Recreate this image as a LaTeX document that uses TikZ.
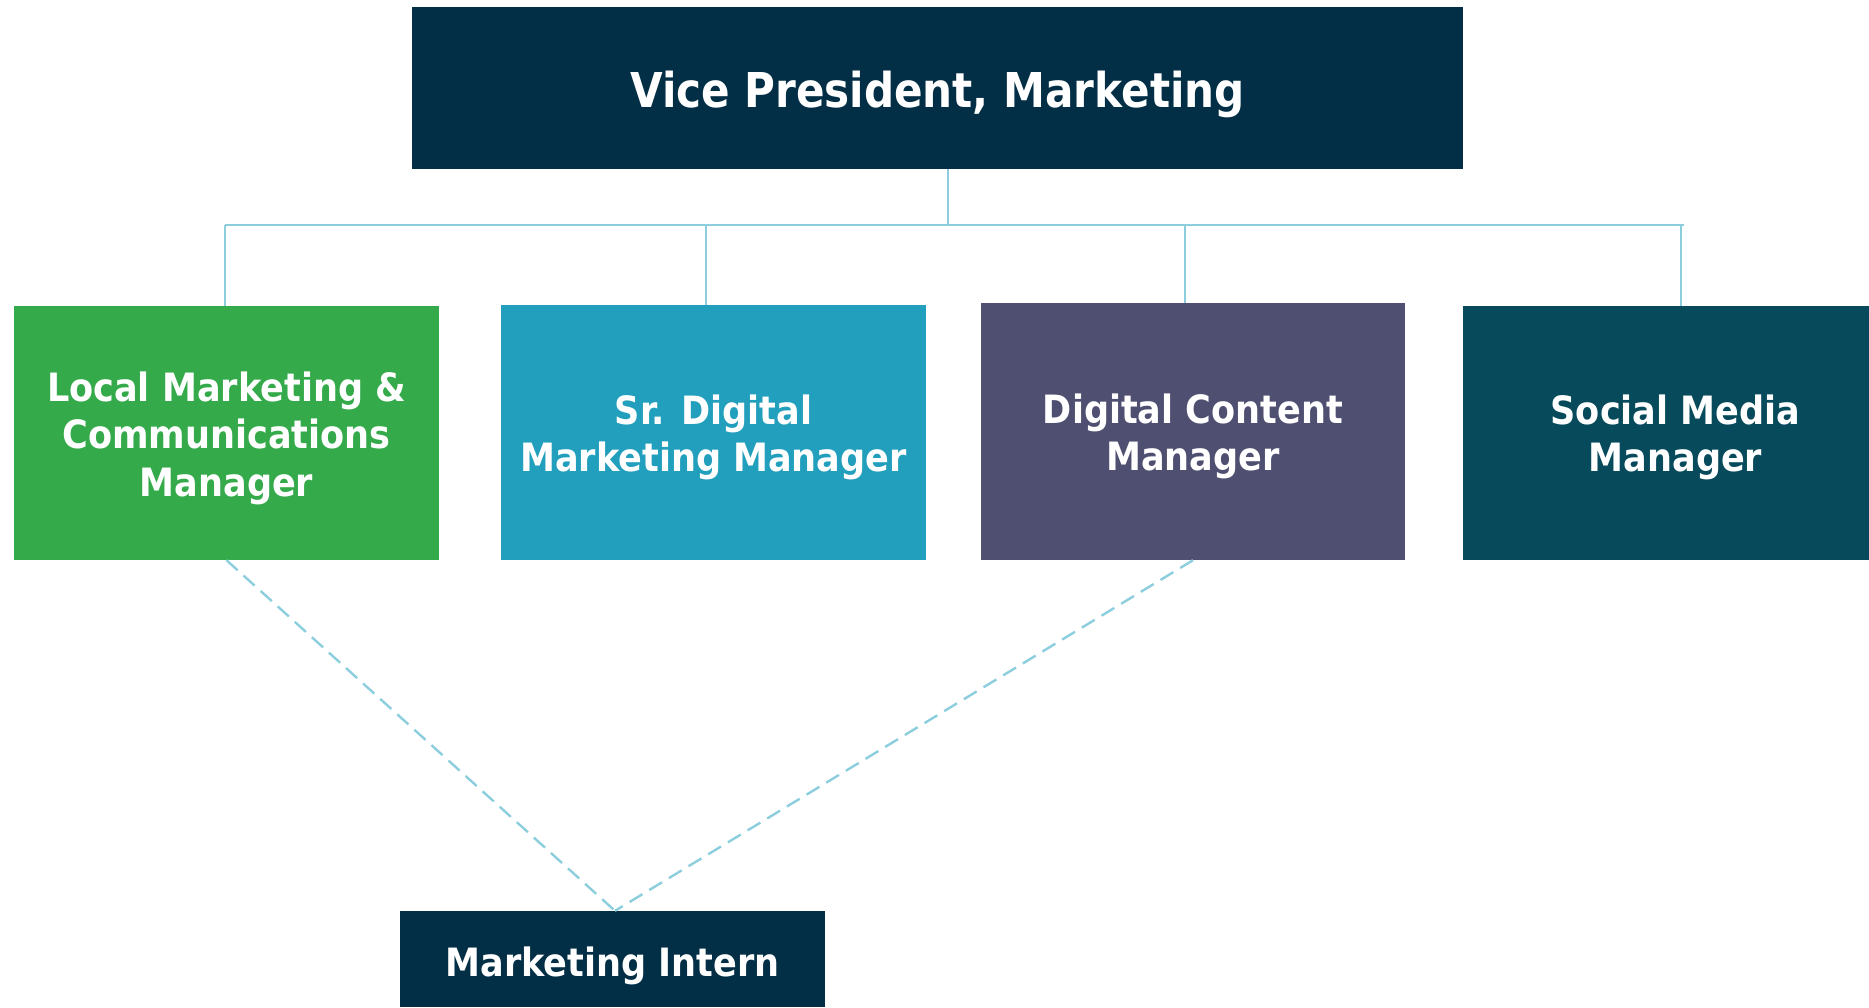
\documentclass[tikz,border=0pt]{standalone}
\usepackage{fontspec}
\newfontfamily\boxfont{DejaVu Sans Condensed Bold}
\definecolor{navy}{RGB}{3,47,70}
\definecolor{leafgreen}{RGB}{52,170,74}
\definecolor{brightteal}{RGB}{34,159,189}
\definecolor{slatepurple}{RGB}{79,80,113}
\definecolor{deepteal}{RGB}{6,74,92}
\definecolor{linkblue}{RGB}{140,206,222}
\begin{document}
\begin{tikzpicture}[x=1pt,y=-1pt,
  box/.style={rectangle, inner sep=0pt, draw=none},
  boxtext/.style={inner sep=0pt, text=white, align=center,
    font=\boxfont\fontsize{39}{47.5}\selectfont},
  solidlink/.style={draw=linkblue, line width=2.2pt},
  dashlink/.style={draw=linkblue, line width=2.4pt, dash pattern=on 15pt off 8pt}]
\useasboundingbox (0,0) rectangle (1869,1007);

% boxes
\node[box, fill=navy, minimum width=1051pt, minimum height=162pt] (vp) at (937.5,88) {};
\node[box, fill=leafgreen, minimum width=425pt, minimum height=254pt] (lm) at (226.5,433) {};
\node[box, fill=brightteal, minimum width=425pt, minimum height=255pt] (sd) at (713.5,432.5) {};
\node[box, fill=slatepurple, minimum width=424pt, minimum height=257pt] (dc) at (1193,431.5) {};
\node[box, fill=deepteal, minimum width=425pt, minimum height=254pt] (sm) at (1675.5,433) {};
\node[box, fill=navy, minimum width=425pt, minimum height=96pt] (mi) at (612.5,959) {};

% titles
\node[boxtext, font=\boxfont\fontsize{48}{56}\selectfont] (vp-t) at ([yshift=-6pt]vp.center)
  {\scalebox{0.975}[1]{Vice President, Marketing}};
\node[boxtext] (lm-t) at ([yshift=-5pt]lm.center) {Local Marketing \&\\Communications\\Manager};
\node[boxtext] (sd-t) at ([yshift=-5pt]sd.center) {Sr. Digital\\Marketing Manager};
\node[boxtext] (dc-t) at ([yshift=-5pt]dc.center) {Digital Content\\Manager};
\node[boxtext] (sm-t) at ([yshift=-4.5pt]sm.center) {Social Media\\Manager};
\node[boxtext] (mi-t) at ([yshift=-7pt]mi.center) {Marketing Intern};

% reporting lines
\coordinate (hub) at (948,225);
\coordinate (busL) at (225,225);
\coordinate (busR) at (1684,225);
\coordinate (b1) at (225,225);
\coordinate (b2) at (706,225);
\coordinate (b3) at (1185,225);
\coordinate (b4) at (1681,225);
\coordinate (meet) at (615,0);

\draw[solidlink] (vp.south -| hub) -- (hub);
\draw[solidlink] (busL) -- (busR);
\draw[solidlink] (b1) -- (lm.north -| b1);
\draw[solidlink] (b2) -- (sd.north -| b2);
\draw[solidlink] (b3) -- (dc.north -| b3);
\draw[solidlink] (b4) -- (sm.north -| b4);

% dashed reporting to the intern
\draw[dashlink] (lm.south) -- (mi.north -| meet);
\draw[dashlink] (dc.south) -- (mi.north -| meet);
\end{tikzpicture}
\end{document}
